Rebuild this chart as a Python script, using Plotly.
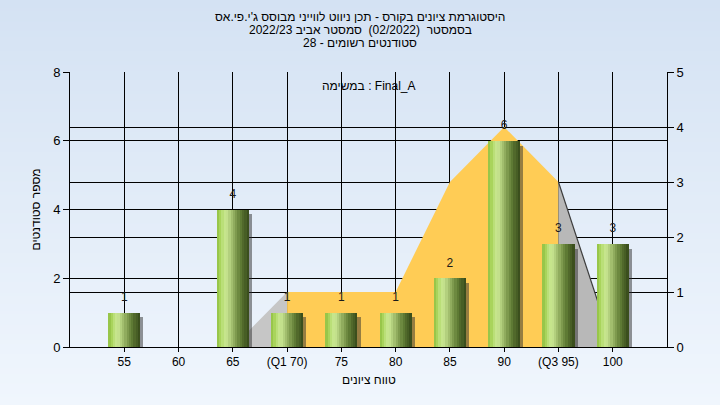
import base64
import struct
import zlib

import plotly.graph_objects as go

# ---------------- data ----------------
categories = ["55", "60", "65", "(Q1 70)", "75", "80", "85", "90", "(Q3 95)", "100"]
student_counts = [1, 0, 4, 1, 1, 1, 2, 6, 3, 3]
curve_values = [0, 0, 0, 1, 1, 1, 3, 4, 3, 0]  # right axis (distribution area)
q1_index = 3
q3_index = 8

title_lines = [
    "היסטוגרמת ציונים בקורס - תכן ניווט לווייני מבוסס ג'י.פי.אס",
    "בסמסטר  (02/2022)  סמסטר אביב 2022/23",
    "סטודנטים רשומים - 28",
]
task_label = "במשימה : Final_A"
y_title = "מספר סטודנטים"
x_title = "טווח ציונים"

# ---------------- style ----------------
FONT = "Liberation Sans, DejaVu Sans, Arial, sans-serif"
PLOT_BG = "#B4B4B4"
W, H = 720, 405
ML, MR, MT, MB = 70, 53, 72, 58
plot_h = H - MT - MB


def gradient_png(top, bottom, height):
    rows = []
    for i in range(height):
        t = i / (height - 1)
        c = [round(top[k] + (bottom[k] - top[k]) * t) for k in range(3)]
        rows.append(b"\x00" + bytes(c))
    raw = b"".join(rows)

    def chunk(tag, data):
        return (struct.pack(">I", len(data)) + tag + data
                + struct.pack(">I", zlib.crc32(tag + data) & 0xFFFFFFFF))

    png = (b"\x89PNG\r\n\x1a\n"
           + chunk(b"IHDR", struct.pack(">IIBBBBB", 1, height, 8, 2, 0, 0, 0))
           + chunk(b"IDAT", zlib.compress(raw))
           + chunk(b"IEND", b""))
    return "data:image/png;base64," + base64.b64encode(png).decode()


fig = go.Figure()

# ---- distribution area (primary y = right axis 0..5) ----
fig.add_trace(go.Scatter(
    x=categories[:q1_index + 1], y=curve_values[:q1_index + 1],
    mode="lines", line=dict(width=0, color="#C6C6C6"),
    fill="tozeroy", fillcolor="#C6C6C6", yaxis="y", hoverinfo="skip"))
fig.add_trace(go.Scatter(
    x=categories[q1_index:q3_index + 1], y=curve_values[q1_index:q3_index + 1],
    mode="lines", line=dict(width=0, color="#FFCC55"),
    fill="tozeroy", fillcolor="#FFCC55", yaxis="y", hoverinfo="skip"))
fig.add_trace(go.Scatter(
    x=categories[q3_index:], y=curve_values[q3_index:],
    mode="lines", line=dict(width=1.2, color="#3C3C3C"),
    fill="tozeroy", fillcolor="#B8B8B8", yaxis="y", hoverinfo="skip"))

# ---- bars (y2 = left axis 0..8) ----
bar_w = 0.59
shadow_counts = [max(c - 0.14, 0) for c in student_counts]
fig.add_trace(go.Bar(
    x=categories, y=shadow_counts, yaxis="y2",
    width=bar_w * 0.9, offset=-bar_w / 2 + bar_w * 0.2,
    marker=dict(color="rgba(45,45,45,0.5)", line=dict(width=0)),
    hoverinfo="skip"))

stops = ["#98C64A", "#A9D45C", "#BADF78", "#C6E58C", "#C3E08C", "#B3D07E",
         "#A2BE6E", "#90AC5E", "#7E9A4E", "#6D8940", "#5E7A34", "#51692B",
         "#475E25", "#3B4F1D"]
n = len(stops)
for k, col in enumerate(stops):
    fig.add_trace(go.Bar(
        x=categories, y=student_counts, yaxis="y2",
        width=bar_w / n + 0.002, offset=-bar_w / 2 + k * bar_w / n,
        marker=dict(color=col, line=dict(width=0)),
        hoverinfo="skip"))

fig.add_trace(go.Scatter(
    x=categories, y=student_counts, yaxis="y2",
    mode="markers+text", text=[str(c) if c > 0 else "" for c in student_counts],
    marker=dict(size=12, opacity=0),
    textposition="top center",
    textfont=dict(family=FONT, size=12, color="#1A1A1A"),
    hoverinfo="skip"))

# ---- layout ----
px_to_paper = lambda py: (H - MB - py) / plot_h

annotations = []
for line, py in zip(title_lines, [17, 30, 43]):
    annotations.append(dict(
        text=line, xref="paper", yref="paper",
        x=(W / 2 - ML) / (W - ML - MR), y=px_to_paper(py),
        xanchor="center", yanchor="middle", showarrow=False,
        font=dict(family=FONT, size=12, color="#000000")))
annotations.append(dict(
    text=task_label, xref="paper", yref="paper", x=0.5, y=px_to_paper(86),
    xanchor="center", yanchor="middle", showarrow=False,
    font=dict(family=FONT, size=12, color="#000000")))
annotations.append(dict(
    text=x_title, xref="paper", yref="paper", x=0.5, y=px_to_paper(380),
    xanchor="center", yanchor="middle", showarrow=False,
    font=dict(family=FONT, size=12, color="#000000")))
annotations.append(dict(
    text=y_title, xref="paper", yref="paper", x=(35 - ML) / (W - ML - MR),
    y=0.5, xanchor="center", yanchor="middle", showarrow=False, textangle=-90,
    font=dict(family=FONT, size=12, color="#000000")))

fig.update_layout(
    width=W, height=H,
    margin=dict(l=ML, r=MR, t=MT, b=MB, pad=0),
    paper_bgcolor="#E4EDF8", plot_bgcolor=PLOT_BG,
    barmode="overlay", showlegend=False, bargap=0,
    font=dict(family=FONT, size=12, color="#000000"),
    annotations=annotations,
    images=[dict(
        source=gradient_png((212, 226, 243), (240, 246, 253), 405),
        xref="paper", yref="paper",
        x=-ML / (W - ML - MR), y=(H - MB) / plot_h,
        sizex=W / (W - ML - MR), sizey=H / plot_h,
        xanchor="left", yanchor="top", sizing="stretch", layer="below")],
    xaxis=dict(
        type="category", range=[-1, len(categories)],
        showgrid=True, gridcolor="#000000", gridwidth=1,
        showline=True, linecolor="#000000", linewidth=1,
        ticks="outside", ticklen=4, tickcolor="#000000",
        tickfont=dict(family=FONT, size=12, color="#000000"),
        zeroline=False, fixedrange=True),
    yaxis=dict(
        side="right", range=[0, 5], dtick=1,
        showgrid=True, gridcolor="#000000", gridwidth=1,
        showline=True, linecolor="#000000", linewidth=1,
        ticks="outside", ticklen=6, tickcolor="#000000",
        tickfont=dict(family=FONT, size=13, color="#000000"),
        zeroline=False, fixedrange=True),
    yaxis2=dict(
        side="left", overlaying="y", range=[0, 8], dtick=2,
        showgrid=True, gridcolor="#000000", gridwidth=1,
        showline=True, linecolor="#000000", linewidth=1,
        ticks="outside", ticklen=6, tickcolor="#000000",
        tickfont=dict(family=FONT, size=13, color="#000000"),
        zeroline=False, fixedrange=True),
)

fig.write_html(
    "out.html",
    config={"displayModeBar": False},
    post_script="document.body.style.margin='0';document.body.style.overflow='hidden';",
)
